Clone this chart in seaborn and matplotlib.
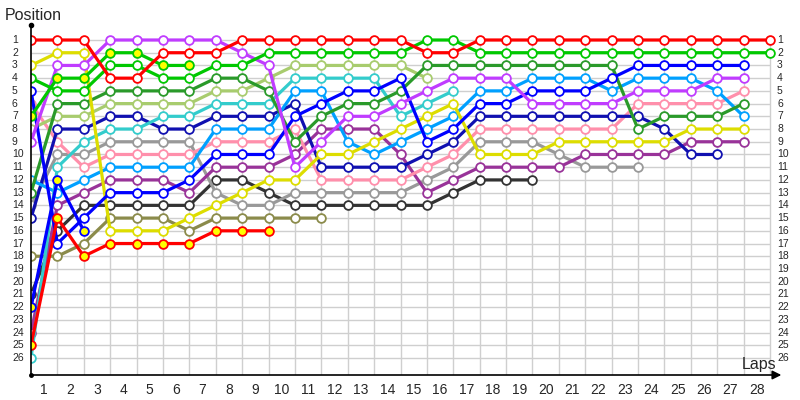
import matplotlib
matplotlib.use("Agg")
import matplotlib.pyplot as plt
import pandas as pd
import seaborn as sns

# ---- data: position of each car at the end of each lap (lap 0 = grid) ----
laps = list(range(0, 29))
positions = list(range(1, 27))
lap_labels = [str(k) for k in range(1, 29)]

red = [1, 1, 1, 4, 4, 2, 2, 2, 1, 1, 1, 1, 1, 1, 1, 2, 2, 1, 1, 1, 1, 1, 1, 1, 1, 1, 1, 1, 1]
red_y = [25, 15, 18, 17, 17, 17, 17, 16, 16, 16]
green = [4, 5, 5, 3, 3, 4, 4, 3, 3, 2, 2, 2, 2, 2, 2, 1, 1, 2, 2, 2, 2, 2, 2, 2, 2, 2, 2, 2, 2]
green_y = [7, 4, 4, 2, 2, 3, 3]
dark_green = [13, 6, 6, 5, 5, 5, 5, 4, 4, 5, 9, 7, 6, 6, 5, 3, 3, 3, 3, 3, 3, 3, 3, 8, 7, 7, 7, 6]
light_olive = [8, 7, 7, 6, 6, 6, 6, 5, 5, 4, 3, 3, 3, 3, 3, 4]
olive = [18, 18, 17, 15, 15, 15, 16, 15, 15, 15, 15, 15]
yellow = [3, 2, 2, 16, 16, 16, 15, 14, 13, 12, 12, 10, 10, 9, 8, 7, 6, 10, 10, 10, 9, 9, 9, 9, 9, 8, 8, 8]
magenta = [9, 3, 3, 1, 1, 1, 1, 1, 2, 3, 11, 9, 7, 7, 6, 5, 4, 4, 4, 6, 6, 6, 6, 5, 5, 5, 4, 4]
purple = [24, 14, 13, 12, 12, 12, 13, 11, 11, 11, 10, 8, 8, 8, 10, 13, 12, 11, 11, 11, 11, 10, 10, 10, 10, 9, 9, 9]
pink = [6, 9, 11, 10, 10, 10, 10, 9, 9, 9, 8, 12, 12, 12, 12, 11, 10, 8, 8, 8, 8, 8, 8, 6, 6, 6, 6, 5]
cyan = [26, 11, 9, 8, 8, 7, 7, 6, 6, 6, 4, 4, 4, 4, 7, 6, 5]
light_blue = [12, 13, 12, 11, 11, 11, 11, 8, 8, 8, 5, 5, 9, 10, 9, 8, 7, 5, 5, 4, 4, 4, 5, 4, 4, 4, 5, 7]
blue = [5, 17, 15, 13, 13, 13, 12, 10, 10, 10, 7, 6, 5, 5, 4, 9, 8, 6, 6, 5, 5, 5, 4, 3, 3, 3, 3, 3]
blue_y = [22, 12, 16]
navy = [15, 8, 8, 7, 7, 8, 8, 7, 7, 7, 6, 11, 11, 11, 11, 10, 9, 7, 7, 7, 7, 7, 7, 7, 8, 10, 10]
grey = [14, 10, 10, 9, 9, 9, 9, 13, 14, 14, 13, 13, 13, 13, 13, 12, 11, 9, 9, 9, 10, 11, 11, 11]
black = [21, 16, 14, 14, 14, 14, 14, 12, 12, 13, 14, 14, 14, 14, 14, 14, 13, 12, 12, 12]

# (name, values, line colour, marker fill)
series = [
    ("black", black, "#333333", "white"),
    ("grey", grey, "#999999", "white"),
    ("olive", olive, "#8b8b4b", "white"),
    ("purple", purple, "#993399", "white"),
    ("pink", pink, "#ff8fab", "white"),
    ("navy", navy, "#1010b0", "white"),
    ("light_blue", light_blue, "#00a0ff", "white"),
    ("cyan", cyan, "#33cccc", "white"),
    ("light_olive", light_olive, "#a8cc6e", "white"),
    ("dark_green", dark_green, "#2a9a2a", "white"),
    ("yellow", yellow, "#dddd00", "white"),
    ("blue_y", blue_y, "#0000ff", "#ffff00"),
    ("blue", blue, "#0000ff", "white"),
    ("magenta", magenta, "#c03cff", "white"),
    ("red_y", red_y, "#ff0000", "#ffff00"),
    ("green_y", green_y, "#00c800", "#ffff00"),
    ("green", green, "#00c800", "white"),
    ("red", red, "#ff0000", "white"),
]

sns.set_style("white")
plt.rcParams["font.family"] = ["Liberation Sans", "DejaVu Sans"]

W, H = 800, 400
fig = plt.figure(figsize=(8, 4), dpi=100)
px_lap = (770 - 31) / 28.0
px_pos = (358 - 40) / 25.0
x_max = 28 + (780 - 770) / px_lap
y_bot = 1 + (375 - 40) / px_pos
y_top = 1 - (40 - 25) / px_pos
ax = fig.add_axes([31 / W, 1 - 375 / H, (780 - 31) / W, (375 - 25) / H])
ax.set_xlim(0, x_max)
ax.set_ylim(y_bot, y_top)

# grid
ax.hlines(positions, 0, laps[-1], color="#cfcfcf", lw=1, zorder=0)
ax.vlines(laps[1:], positions[0], y_bot, color="#cfcfcf", lw=1, zorder=0)

for name, vals, col, fc in series:
    df = pd.DataFrame({"lap": laps[:len(vals)], "pos": vals})
    sns.lineplot(data=df, x="lap", y="pos", ax=ax, color=col, lw=2.3,
                 marker="o", markersize=6.3, markerfacecolor=fc,
                 markeredgecolor=col, markeredgewidth=1.3,
                 estimator=None, sort=False, legend=False, zorder=3)

for s in ax.spines.values():
    s.set_visible(False)

# axes lines
ax.plot([0, 0], [y_bot, y_top], color="black", lw=1.2, clip_on=False, zorder=4)
ax.plot([0], [y_top], "o", color="black", ms=3, clip_on=False, zorder=4)
ax.plot([0], [y_bot], "o", color="black", ms=2.5, clip_on=False, zorder=4)
ax.annotate("", xy=(x_max + 0.05, y_bot), xytext=(0, y_bot),
            arrowprops=dict(arrowstyle="-|>", color="black", lw=1.2,
                            mutation_scale=13, shrinkA=0, shrinkB=0),
            annotation_clip=False)

ax.set_xticks([k - 0.5 for k in range(1, 29)])
ax.set_xticklabels(lap_labels, fontsize=10)
ax.set_yticks([])
ax.tick_params(axis="x", length=0, pad=6)
ax.set_xlabel("")
ax.set_ylabel("")

left_x = (12 - 31) / px_lap
right_x = (777 - 31) / px_lap
for p in positions:
    ax.text(left_x, p, str(p), ha="left", va="center", fontsize=7.5)
    ax.text(right_x, p, str(p), ha="left", va="center", fontsize=7.5)

fig.text(5 / W, 1 - 15 / H, "Position", ha="left", va="center", fontsize=11.5)
fig.text(759 / W, 1 - 364 / H, "Laps", ha="center", va="center", fontsize=11.5)

fig.savefig("out.png", dpi=100, facecolor="white")
